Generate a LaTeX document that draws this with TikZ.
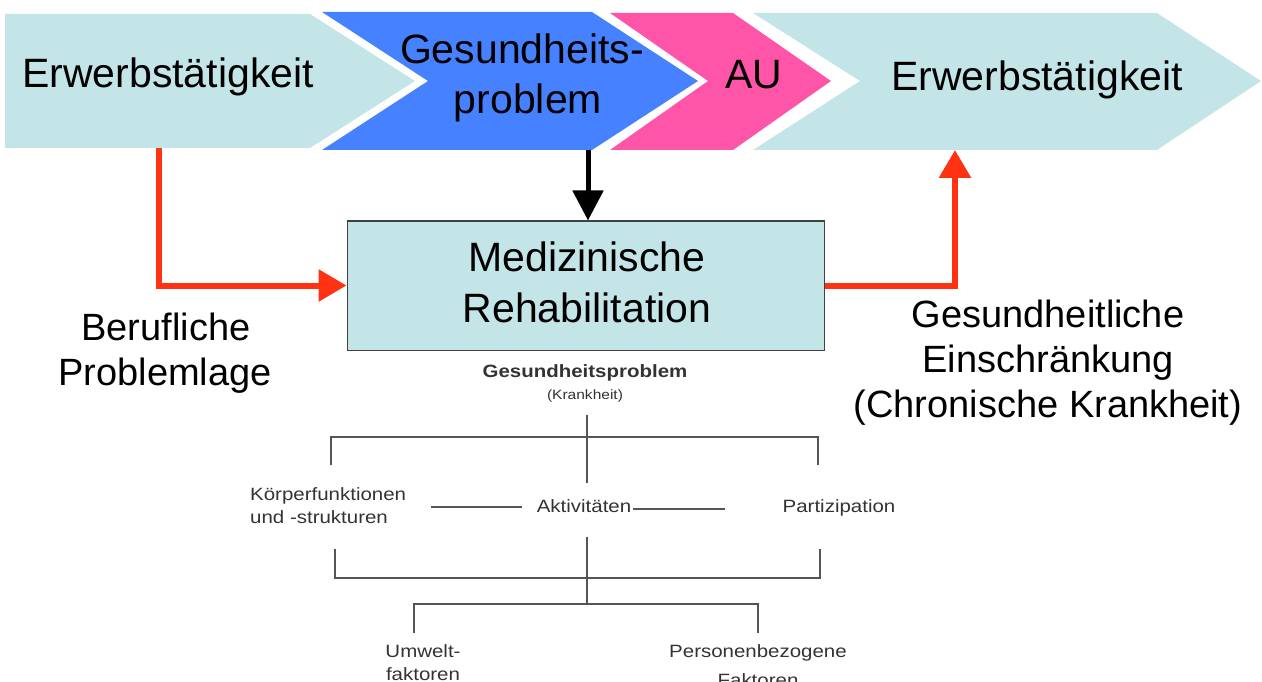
\documentclass[tikz,border=0pt]{standalone}
\usepackage{fontspec}
\setmainfont{Liberation Sans}
\newfontfamily\icffont[FakeStretch=1.15]{Liberation Sans}
\usetikzlibrary{arrows.meta}
\definecolor{lcyan}{HTML}{C3E5E8}
\definecolor{cblue}{HTML}{4682FF}
\definecolor{cpink}{HTML}{FF55A8}
\definecolor{cred}{HTML}{FF3311}
\definecolor{icfgray}{HTML}{555555}
\definecolor{icftext}{HTML}{333333}
\begin{document}
\begin{tikzpicture}[x=1pt,y=-1pt,
  bigtxt/.style={font=\fontsize{41}{50}\selectfont, inner sep=0pt, align=center},
  sidetxt/.style={font=\fontsize{38}{45}\selectfont, inner sep=0pt, align=center},
  icftxt/.style={font=\icffont\fontsize{17.8}{23}\selectfont, text=icftext, inner sep=0pt},
  icfline/.style={draw=icfgray, line width=1.1pt},
  redarrow/.style={draw=cred, line width=6pt, -{Triangle[length=28pt,width=31pt]}},
  blackarrow/.style={draw=black, line width=5pt, -{Triangle[length=30pt,width=30pt]}}
]
\useasboundingbox (0,0) rectangle (1262,682);
% chevrons
\fill[lcyan] (5,14) -- (310,14) -- (415,81) -- (310,148) -- (5,148) -- cycle;
\fill[cblue] (322,12) -- (592,12) -- (698,81) -- (592,150) -- (322,150) -- (428,81) -- cycle;
\fill[cpink] (610,13) -- (733,13) -- (831,81) -- (733,150) -- (610,150) -- (708,81) -- cycle;
\fill[lcyan] (753,13) -- (1157,13) -- (1261,81) -- (1157,150) -- (753,150) -- (860,81) -- cycle;
\node[bigtxt, anchor=base] (erw1) at (168,88) {Erwerbstätigkeit};
\node[bigtxt, anchor=base] (ges1) at (522,64) {Gesundheits-};
\node[bigtxt, anchor=base] (ges2) at (528,114) {problem};
\node[bigtxt, anchor=base] (au) at (754,89) {AU};
\node[bigtxt, anchor=base] (erw2) at (1037,91) {Erwerbstätigkeit};
% anchors on chevron edges
\coordinate (c1b) at (159,148);
\coordinate (c2b) at (588,150);
\coordinate (c4b) at (955,150);
% rehab box
\node[draw=black!75, line width=1pt, fill=lcyan, minimum width=477pt, minimum height=129pt, inner sep=0pt] (reha) at (585.5,285.5) {};
\node[bigtxt, anchor=base] (med) at (587,271) {Medizinische};
\node[bigtxt, anchor=base] (rehab) at (587,322) {Rehabilitation};
% arrows
\draw[blackarrow] (c2b) -- (reha.north -| c2b);
\draw[redarrow] (c1b) |- (reha.west);
\draw[redarrow] (reha.east) -| (c4b);
% side labels
\node[sidetxt, anchor=base] (ber) at (166,340) {Berufliche};
\node[sidetxt, anchor=base] (prob) at (165,385) {Problemlage};
\node[sidetxt, anchor=base] (gl1) at (1048,327) {Gesundheitliche};
\node[sidetxt, anchor=base] (gl2) at (1048,372) {Einschränkung};
\node[sidetxt, anchor=base] (gl3) at (1048,417) {(Chronische Krankheit)};
% ICF diagram
\node[icftxt, font=\icffont\bfseries\fontsize{17.8}{23}\selectfont, anchor=base] (gp) at (585,377) {Gesundheitsproblem};
\node[icftxt, font=\icffont\fontsize{13.5}{15}\selectfont, anchor=base] (kr) at (585,399) {(Krankheit)};
\node[icftxt, anchor=base west, align=left] (koer) at (250,500) {Körperfunktionen};
\node[icftxt, anchor=base west, align=left] (koer2) at (250,523) {und -strukturen};
\node[icftxt, anchor=base] (akt) at (584,512) {Aktivitäten};
\node[icftxt, anchor=base] (part) at (839,512) {Partizipation};
\node[icftxt, anchor=base] (umw1) at (423,657) {Umwelt-};
\node[icftxt, anchor=base] (umw2) at (423,680) {faktoren};
\node[icftxt, anchor=base] (pers1) at (758,657) {Personenbezogene};
\node[icftxt, anchor=base] (pers2) at (758,686) {Faktoren};
% ICF lines
\draw[icfline] (587,415) -- (587,483);
\draw[icfline] (331,465) -- (331,437) -- (818,437) -- (818,465);
\draw[icfline] (431,507) -- (522,507);
\draw[icfline] (633,509) -- (725,509);
\draw[icfline] (587,537) -- (587,604);
\draw[icfline] (335,549) -- (335,578) -- (820,578) -- (820,549);
\draw[icfline] (414,633) -- (414,604) -- (758,604) -- (758,633);
\end{tikzpicture}
\end{document}
